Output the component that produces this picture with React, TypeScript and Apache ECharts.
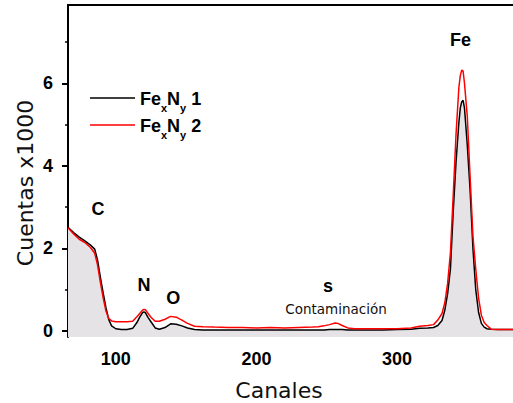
import React, { useEffect, useRef } from "react";
import * as echarts from "echarts";

// Channel grid (x) and counts (x1000) for the two samples
const channels = [
  66, 70, 74, 78, 82, 85, 87, 89, 91, 93, 95, 97, 100, 104, 108, 112, 115, 117, 119, 120,
  121, 123, 125, 128, 131, 135, 139, 143, 147, 151, 156, 162, 170, 180, 190, 200, 210, 220,
  230, 240, 244, 248, 252, 256, 258, 261, 265, 270, 280, 290, 300, 310, 316, 322, 326, 329,
  332, 334, 336, 338, 340, 342, 344, 345, 346, 347, 348, 350, 352, 354, 356, 358, 360, 362,
  364, 367, 372, 378, 383,
];
const counts1 = [
  2.51, 2.38, 2.27, 2.18, 2.08, 1.98, 1.72, 1.3, 0.92, 0.56, 0.27, 0.12, 0.05, 0.03, 0.03,
  0.06, 0.2, 0.33, 0.44, 0.46, 0.44, 0.32, 0.22, 0.07, 0.04, 0.08, 0.17, 0.16, 0.12, 0.07,
  0.03, 0.02, 0.02, 0.02, 0.02, 0.02, 0.02, 0.02, 0.02, 0.02, 0.02, 0.02, 0.03, 0.03, 0.03,
  0.03, 0.02, 0.02, 0.02, 0.02, 0.03, 0.04, 0.06, 0.07, 0.08, 0.13, 0.25, 0.5, 0.9, 1.5,
  2.9, 4.1, 5.05, 5.4, 5.55, 5.59, 5.4, 4.5, 3.4, 2.0, 1.0, 0.45, 0.18, 0.09, 0.05, 0.04,
  0.03, 0.03, 0.03,
];
const counts2 = [
  2.5, 2.35, 2.22, 2.14, 2.02, 1.88, 1.6, 1.18, 0.8, 0.48, 0.3, 0.24, 0.22, 0.22, 0.22,
  0.23, 0.34, 0.42, 0.5, 0.52, 0.51, 0.42, 0.33, 0.23, 0.23, 0.28, 0.35, 0.33, 0.26, 0.18,
  0.11, 0.1, 0.09, 0.08, 0.08, 0.07, 0.08, 0.07, 0.08, 0.09, 0.1, 0.12, 0.15, 0.19, 0.18,
  0.13, 0.07, 0.05, 0.05, 0.05, 0.05, 0.07, 0.11, 0.13, 0.15, 0.26, 0.42, 0.68, 1.15, 1.9,
  3.3, 4.78, 5.9, 6.18, 6.32, 6.3, 6.0, 5.19, 3.73, 2.3, 1.5, 0.8, 0.38, 0.2, 0.13, 0.04,
  0.03, 0.03, 0.03,
];
const seriesNames = ["FexNy 1", "FexNy 2"];
const xMajorTicks = [100, 200, 300];
const xMinorTicks = [150, 250, 350];
const yMajorTicks = [0, 2, 4, 6];
const yMinorTicks = [1, 3, 5, 7];
const peakLabels = ["C", "N", "O", "s", "Fe"];
const noteLabel = "Contaminación";
const xName = "Canales";
const yName = "Cuentas x1000";

const X_MIN = 66;
const X_MAX = 382.5;
const Y_MIN = -0.15;
const Y_MAX = 7.9;

export default function App() {
  const ref = useRef<HTMLDivElement>(null);
  useEffect(() => {
    if (!ref.current) return;
    const chart = echarts.init(ref.current, null, { renderer: "svg" });
    const boldFont = "'Liberation Sans', Arial, sans-serif";
    const plainFont = "'DejaVu Sans', sans-serif";
    const data1 = channels.map((c, i) => [c, counts1[i]]);
    const data2 = channels.map((c, i) => [c, counts2[i]]);
    const peakPos = [
      [98, 208.7],
      [144, 285.4],
      [173.3, 297.7],
      [328, 286],
      [460.5, 40.4],
    ];
    const legendFmt = (name: string) => {
      const n = name.slice(-1);
      return `{b|Fe}{s|x}{b|N}{s|y}{b| ${n}}`;
    };
    chart.setOption({
      animation: false,
      backgroundColor: "#fff",
      grid: {
        left: 68,
        top: 5,
        right: 0,
        bottom: 66,
        show: false,
      },
      legend: {
        orient: "vertical",
        left: 90,
        top: 83,
        padding: 0,
        itemWidth: 45,
        itemHeight: 14,
        itemGap: -3,
        icon: "path://M0,0H45V1.5H0Z",
        data: seriesNames,
        formatter: legendFmt,
        textStyle: {
          color: "#000",
          rich: {
            b: {
              fontFamily: boldFont,
              fontWeight: "bold",
              fontSize: 18,
              lineHeight: 18,
              padding: [7, 0, 0, 0],
              verticalAlign: "top",
              color: "#000",
            },
            s: {
              fontFamily: boldFont,
              fontWeight: "bold",
              fontSize: 11,
              lineHeight: 30,
              verticalAlign: "bottom",
              color: "#000",
            },
          },
        },
      },
      xAxis: [
        {
          type: "value",
          min: X_MIN,
          max: X_MAX,
          position: "bottom",
          axisLine: { show: true, lineStyle: { color: "#000", width: 2 } },
          axisTick: {
            show: true,
            inside: false,
            length: 6,
            customValues: xMajorTicks,
            lineStyle: { color: "#000", width: 2 },
          },
          axisLabel: {
            customValues: xMajorTicks,
            margin: 13,
            color: "#000",
            fontFamily: boldFont,
            fontWeight: "bold",
            fontSize: 18,
          },
          splitLine: { show: false },
        },
        {
          type: "value",
          min: X_MIN,
          max: X_MAX,
          position: "bottom",
          axisLine: { show: false },
          axisTick: {
            show: true,
            length: 3,
            customValues: xMinorTicks,
            lineStyle: { color: "#000", width: 1.5 },
          },
          axisLabel: { show: false },
          splitLine: { show: false },
        },
        {
          type: "value",
          min: X_MIN,
          max: X_MAX,
          position: "top",
          axisLine: { show: true, lineStyle: { color: "#000", width: 2 } },
          axisTick: { show: false },
          axisLabel: { show: false },
          splitLine: { show: false },
        },
      ],
      yAxis: [
        {
          type: "value",
          min: Y_MIN,
          max: Y_MAX,
          position: "left",
          axisLine: { show: true, lineStyle: { color: "#000", width: 2 } },
          axisTick: {
            show: true,
            length: 6,
            customValues: yMajorTicks,
            lineStyle: { color: "#000", width: 2 },
          },
          axisLabel: {
            customValues: yMajorTicks,
            margin: 15,
            color: "#000",
            fontFamily: boldFont,
            fontWeight: "bold",
            fontSize: 18,
          },
          splitLine: { show: false },
        },
        {
          type: "value",
          min: Y_MIN,
          max: Y_MAX,
          position: "left",
          axisLine: { show: false },
          axisTick: {
            show: true,
            length: 3,
            customValues: yMinorTicks,
            lineStyle: { color: "#000", width: 1.5 },
          },
          axisLabel: { show: false },
          splitLine: { show: false },
        },
      ],
      series: [
        {
          name: seriesNames[0],
          type: "line",
          data: data1,
          symbol: "none",
          lineStyle: { color: "#000", width: 1.5 },
          itemStyle: { color: "#000" },
          areaStyle: { color: "#e5e3e5", origin: "start", opacity: 1 },
          z: 2,
        },
        {
          name: seriesNames[1],
          type: "line",
          data: data2,
          symbol: "none",
          lineStyle: { color: "#ff0000", width: 1.5 },
          itemStyle: { color: "#ff0000" },
          z: 3,
        },
      ],
      graphic: [
        ...peakLabels.map((t, i) => ({
          type: "text",
          x: peakPos[i][0],
          y: peakPos[i][1],
          z: 10,
          style: {
            text: t,
            fill: "#000",
            font: `bold 18px ${boldFont}`,
            textAlign: "center",
            textVerticalAlign: "middle",
          },
        })),
        {
          type: "text",
          x: 336,
          y: 308.6,
          z: 10,
          style: {
            text: noteLabel,
            fill: "#111",
            font: `13.5px ${plainFont}`,
            textAlign: "center",
            textVerticalAlign: "middle",
          },
        },
        {
          type: "text",
          x: 279,
          y: 390.6,
          z: 10,
          style: {
            text: xName,
            fill: "#111",
            font: `22px ${plainFont}`,
            textAlign: "center",
            textVerticalAlign: "middle",
          },
        },
        {
          type: "text",
          x: 25.3,
          y: 183,
          rotation: Math.PI / 2,
          z: 10,
          style: {
            text: yName,
            fill: "#111",
            font: `22px ${plainFont}`,
            textAlign: "center",
            textVerticalAlign: "middle",
          },
        },
      ],
    });
    return () => chart.dispose();
  }, []);
  return (
    <div
      ref={ref}
      style={{ position: "fixed", left: 0, top: 0, width: 513, height: 403, background: "#fff" }}
    />
  );
}
